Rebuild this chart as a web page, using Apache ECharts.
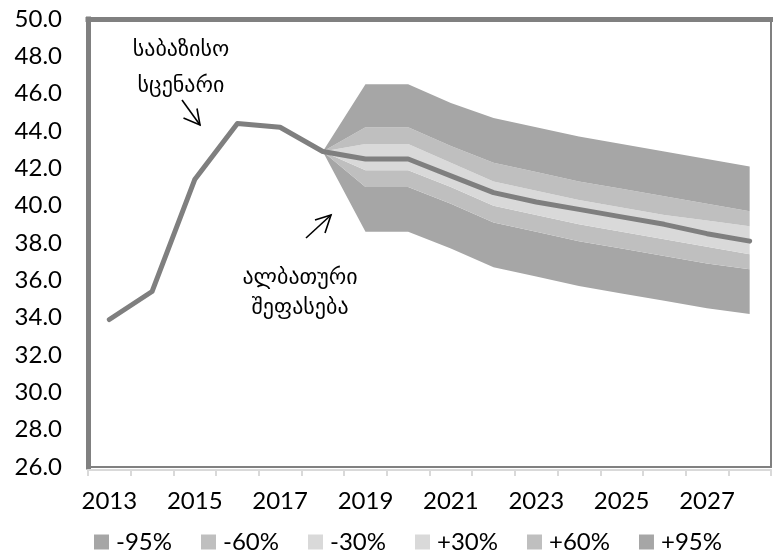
<!DOCTYPE html>
<html>
<head>
<meta charset="utf-8">
<script src="https://cdn.jsdelivr.net/npm/echarts@6/dist/echarts.min.js"></script>
<style>
html,body{margin:0;padding:0;background:#fff;}
#chart{width:773px;height:555px;}
</style>
</head>
<body>
<div id="chart"></div>
<script>
const years = ['2013','2014','2015','2016','2017','2018','2019','2020','2021','2022','2023','2024','2025','2026','2027','2028'];
const baseline = [33.9, 35.4, 41.4, 44.4, 44.2, 42.9, 42.5, 42.5, 41.6, 40.7, 40.2, 39.8, 39.4, 39.0, 38.5, 38.1];
const lower95 = [null, null, null, null, null, 42.9, 38.6, 38.6, 37.7, 36.7, 36.2, 35.7, 35.3, 34.9, 34.5, 34.2];
const lower60 = [null, null, null, null, null, 42.9, 41.0, 41.0, 40.1, 39.1, 38.6, 38.1, 37.7, 37.3, 36.9, 36.6];
const lower30 = [null, null, null, null, null, 42.9, 41.9, 41.9, 41.0, 40.0, 39.5, 39.0, 38.6, 38.2, 37.8, 37.4];
const upper30 = [null, null, null, null, null, 42.9, 43.3, 43.3, 42.3, 41.3, 40.8, 40.3, 39.9, 39.5, 39.2, 38.9];
const upper60 = [null, null, null, null, null, 42.9, 44.2, 44.2, 43.2, 42.3, 41.8, 41.3, 40.9, 40.5, 40.1, 39.7];
const upper95 = [null, null, null, null, null, 42.9, 46.5, 46.5, 45.5, 44.7, 44.2, 43.7, 43.3, 42.9, 42.5, 42.1];
const bandNames = ['-95%', '-60%', '-30%', '+30%', '+60%', '+95%'];
const bandColors = ['#a6a6a6', '#bfbfbf', '#d9d9d9', '#d9d9d9', '#bfbfbf', '#a6a6a6'];
const label1 = ['საბაზისო', 'სცენარი'];
const label2 = ['ალბათური', 'შეფასება'];

const bounds = [lower95, lower60, lower30, baseline, upper30, upper60, upper95];
function diff(hi, lo) {
  return hi.map((v, i) => (lo[i] == null || v == null) ? '-' : +(v - lo[i]).toFixed(3));
}
const series = [{
  name: 'base', type: 'line', stack: 'fan', symbol: 'none',
  data: lower95.map(v => v == null ? '-' : v),
  lineStyle: { width: 0, opacity: 0 }, silent: true
}];
for (let k = 0; k < 6; k++) {
  series.push({
    name: bandNames[k], type: 'line', stack: 'fan', symbol: 'none',
    data: diff(bounds[k + 1], bounds[k]),
    lineStyle: { width: 0, opacity: 0 },
    itemStyle: { color: bandColors[k] },
    areaStyle: { color: bandColors[k], opacity: 1 }
  });
}
series.push({
  name: 'baseline', type: 'line', symbol: 'none', data: baseline, z: 5,
  lineStyle: { width: 5, color: '#7f7f7f', cap: 'round', join: 'round' },
  itemStyle: { color: '#7f7f7f' }
});

const font = 'Lato, "Liberation Sans", sans-serif';
const gfont = '"DejaVu Sans", sans-serif';
function txt(t, x, y) {
  return { type: 'text', silent: true,
    style: { text: t, x: x, y: y, font: '22px ' + gfont, fill: '#000', textAlign: 'center', textVerticalAlign: 'middle' } };
}
function pl(pts) {
  return { type: 'polyline', silent: true, shape: { points: pts }, style: { stroke: '#000', lineWidth: 1.6, fill: null } };
}
const chart = echarts.init(document.getElementById('chart'));
chart.setOption({
  animation: false,
  backgroundColor: '#fff',
  grid: { left: 88, right: 2, top: 19, bottom: 88 },
  legend: {
    data: bandNames.map(n => ({ name: n, icon: 'rect' })),
    left: 89, top: 525, itemWidth: 15, itemHeight: 15, itemGap: 29,
    textStyle: { fontFamily: font, fontSize: 24, color: '#000', padding: [0, 0, 0, 2] }
  },
  xAxis: [{
    type: 'category', data: years, boundaryGap: true, position: 'bottom',
    axisLine: { lineStyle: { color: '#808080', width: 2 } },
    axisTick: { show: false },
    axisLabel: { interval: 1, margin: 22, fontFamily: font, fontSize: 24, color: '#000' },
    splitLine: { show: false }
  }, {
    type: 'category', data: years, boundaryGap: true, position: 'bottom', offset: 3,
    axisLine: { lineStyle: { color: '#d9d9d9', width: 2 } },
    axisTick: { show: true, length: 6, lineStyle: { color: '#d9d9d9', width: 2 } },
    axisLabel: { show: false }, splitLine: { show: false }
  }, {
    type: 'category', data: years, position: 'top',
    axisLine: { lineStyle: { color: '#808080', width: 5, cap: 'square' } },
    axisTick: { show: false }, axisLabel: { show: false }, splitLine: { show: false }
  }],
  yAxis: [{
    type: 'value', min: 26, max: 50, interval: 2, position: 'left',
    axisLine: { show: true, lineStyle: { color: '#808080', width: 5, cap: 'square' } },
    axisTick: { show: false },
    axisLabel: { margin: 26, fontFamily: font, fontSize: 24, color: '#000', formatter: v => v.toFixed(1) },
    splitLine: { show: false }
  }, {
    type: 'value', min: 26, max: 50, interval: 2, position: 'right',
    axisLine: { show: true, lineStyle: { color: '#808080', width: 2 } },
    axisTick: { show: false }, axisLabel: { show: false }, splitLine: { show: false }
  }],
  series: series,
  graphic: [
    txt(label1[0], 181, 50),
    txt(label1[1], 181, 86),
    txt(label2[0], 300, 278),
    txt(label2[1], 300, 308),
    pl([[182, 100], [200, 125]]),
    pl([[183.5, 118], [200, 125], [197, 108.5]]),
    pl([[306, 238], [331, 215]]),
    pl([[315, 220], [331, 215], [325, 233]])
  ]
});
</script>
</body>
</html>
